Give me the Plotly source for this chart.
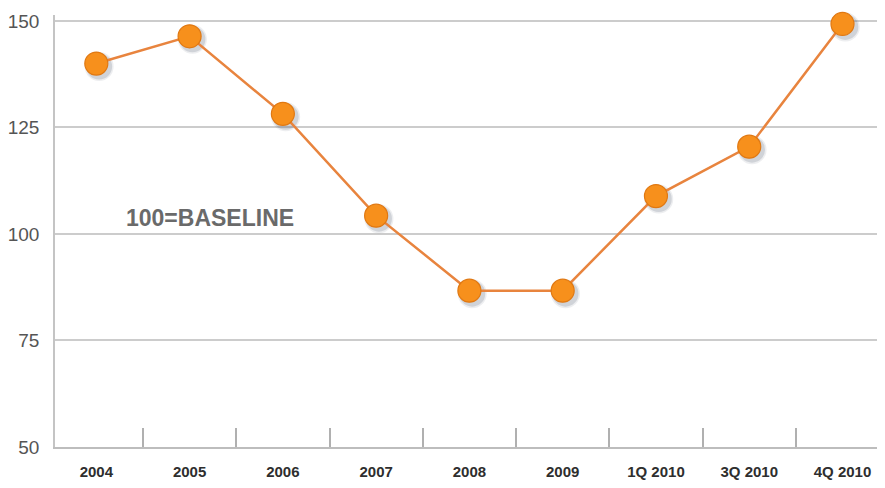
import plotly.graph_objects as go

categories = ["2004", "2005", "2006", "2007", "2008", "2009", "1Q 2010", "3Q 2010", "4Q 2010"]
values = [140.0, 146.4, 128.2, 104.3, 86.7, 86.7, 108.9, 120.5, 149.3]
y_ticks = [50, 75, 100, 125, 150]
baseline_label = "100=BASELINE"

fig = go.Figure()

# soft drop shadow under the markers (drawn on offset overlay axes)
for size, alpha in [(29, 0.10), (26, 0.18)]:
    fig.add_trace(go.Scatter(
        x=categories, y=values, mode="markers",
        marker=dict(size=size, color=f"rgba(80,90,110,{alpha})", line=dict(width=0)),
        xaxis="x2", yaxis="y2", hoverinfo="skip", showlegend=False, cliponaxis=False,
    ))

# main series on a top overlay with the same scales as the visible axes
fig.add_trace(go.Scatter(
    x=categories, y=values, mode="lines+markers",
    line=dict(color="#E8843E", width=2.5),
    marker=dict(size=23, color="#F7901C", line=dict(color="#E07812", width=1.2)),
    xaxis="x3", yaxis="y3", showlegend=False, cliponaxis=False,
))

fig.add_annotation(
    text="<b>" + baseline_label + "</b>", xref="paper", yref="y",
    x=0.189, y=103.8, xanchor="center", yanchor="middle", showarrow=False,
    font=dict(family="Liberation Sans, Arial", size=23, color="#6a6a6a"),
)

x_range = [-0.443, 8.37]
y_range = [50, 151.4]

fig.update_layout(
    width=885, height=488,
    margin=dict(l=52, r=8, t=15, b=36),
    paper_bgcolor="white", plot_bgcolor="white",
    xaxis=dict(
        type="category", categoryarray=categories, range=x_range, tickson="boundaries",
        ticks="inside", ticklen=19, tickwidth=1.5, tickcolor="#b0b0b0",
        showgrid=False, showline=True, linecolor="#bdbdbd", linewidth=1.5,
        tickfont=dict(family="Liberation Sans, Arial", size=15, color="#2e2e2e", weight="bold"),
        ticklabelstandoff=10, zeroline=False,
    ),
    yaxis=dict(
        range=y_range, tickvals=y_ticks, showgrid=True, gridcolor="#cccccc", gridwidth=2,
        showline=True, linecolor="#c4c4c4", linewidth=1.5, ticks="",
        tickfont=dict(family="Liberation Sans, Arial", size=19, color="#555555"),
        ticklabelstandoff=10, zeroline=False,
    ),
    xaxis2=dict(type="category", categoryarray=categories,
                range=[x_range[0] - 0.03, x_range[1] - 0.03], overlaying="x", visible=False),
    yaxis2=dict(range=[y_range[0] + 0.7, y_range[1] + 0.7], overlaying="y", visible=False),
    xaxis3=dict(type="category", categoryarray=categories, range=x_range,
                overlaying="x", visible=False),
    yaxis3=dict(range=y_range, overlaying="y", visible=False),
)

fig.write_html("out.html")
